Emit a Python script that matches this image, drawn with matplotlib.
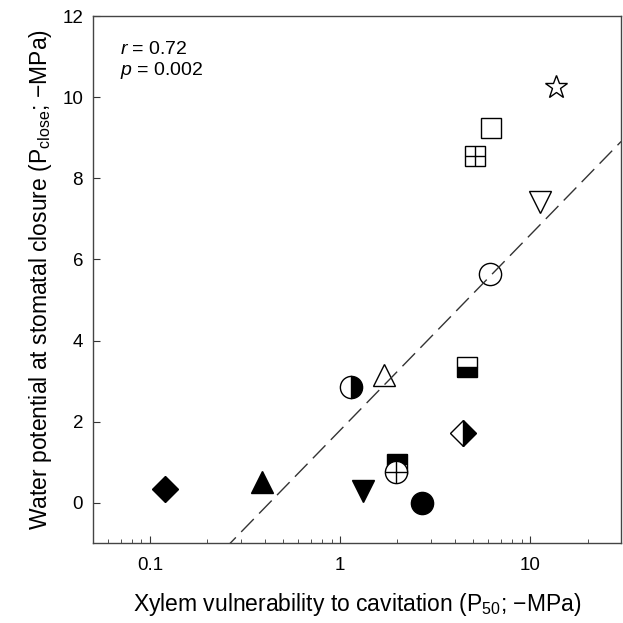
import numpy as np
import matplotlib
matplotlib.use("Agg")
import matplotlib.pyplot as plt

plt.rcParams['font.family'] = ['Liberation Sans', 'DejaVu Sans']
plt.rcParams['mathtext.fontset'] = 'custom'
plt.rcParams['mathtext.rm'] = 'Liberation Sans'
plt.rcParams['mathtext.it'] = 'Liberation Sans:italic'

# species values (P50 and Pclose, -MPa)
p50 = [0.12, 0.39, 1.32, 2.69, 2.0, 1.97, 1.14, 1.70, 4.66, 4.44, 6.11, 11.2, 5.13, 6.23, 13.7]
pclose = [0.35, 0.52, 0.30, 0.0, 0.95, 0.76, 2.86, 3.15, 3.35, 1.73, 5.64, 7.42, 8.55, 9.24, 10.26]

# regression line: Pclose = a + b*log10(P50)
fit_a = 1.79
fit_b = 4.82
stat_r = 0.72
stat_p = 0.002

# marker, fillstyle, face, alt face, size, overlay
styles = [
    ('D', 'full', 'black', 'white', 13.5, None),
    ('^', 'full', 'black', 'white', 16, None),
    ('v', 'full', 'black', 'white', 16, None),
    ('o', 'full', 'black', 'white', 16, None),
    ('s', 'top', 'black', 'white', 14, None),
    ('o', 'full', 'white', 'white', 16, '+'),
    ('o', 'right', 'black', 'white', 16, None),
    ('^', 'full', 'white', 'white', 16, None),
    ('s', 'bottom', 'black', 'white', 14, None),
    ('D', 'right', 'black', 'white', 13.5, None),
    ('o', 'full', 'white', 'white', 16, None),
    ('v', 'full', 'white', 'white', 16, None),
    ('s', 'full', 'white', 'white', 14, '+'),
    ('s', 'full', 'white', 'white', 14, None),
    ('*', 'full', 'white', 'white', 17, None),
]

fig = plt.figure(figsize=(6.23, 6.23), dpi=100)
ax = fig.add_axes([0.149, 0.128, 0.848, 0.846])

for i in range(len(p50)):
    m, fs, fc, fca, ms, ov = styles[i]
    ax.plot(p50[i], pclose[i], marker=m, fillstyle=fs, markerfacecolor=fc,
            markerfacecoloralt=fca, markeredgecolor='black', markeredgewidth=1.0,
            markersize=ms, linestyle='none', zorder=3 + i * 0.01)
    if ov is not None:
        ax.plot(p50[i], pclose[i], marker=ov, markersize=ms, markeredgecolor='black',
                markeredgewidth=1.0, linestyle='none', zorder=3 + i * 0.01)

xs = np.logspace(np.log10(0.05), np.log10(30), 200)
ax.plot(xs, fit_a + fit_b * np.log10(xs), color='#333333', lw=1.0,
        dashes=(13, 5.5), zorder=4)

ax.set_xscale('log')
ax.set_xlim(0.05, 30)
ax.set_ylim(-1, 12)
ax.set_yticks([0, 2, 4, 6, 8, 10, 12])
ax.set_xticks([0.1, 1, 10])
ax.set_xticklabels(['0.1', '1', '10'])
ax.tick_params(axis='both', which='both', direction='in', labelsize=13.5,
               color='#333333')
ax.tick_params(axis='x', which='major', length=5, pad=10)
ax.tick_params(axis='y', which='major', length=5, pad=7)
ax.tick_params(axis='x', which='minor', length=3)
for s in ax.spines.values():
    s.set_color('#444444')
    s.set_linewidth(1.0)

ax.set_xlabel('Xylem vulnerability to cavitation (P$_{\\mathregular{50}}$; \u2212MPa)',
              fontsize=16.5, labelpad=12)
ax.set_ylabel('Water potential at stomatal closure (P$_{\\mathregular{close}}$; \u2212MPa)',
              fontsize=16.5, labelpad=6)

ax.text(0.052, 0.952, '$\\mathit{r}$ = %.2f\n$\\mathit{p}$ = %.3f' % (stat_r, stat_p),
        transform=ax.transAxes, ha='left', va='top', fontsize=14, linespacing=1.1)

fig.savefig('out.png', dpi=100)
